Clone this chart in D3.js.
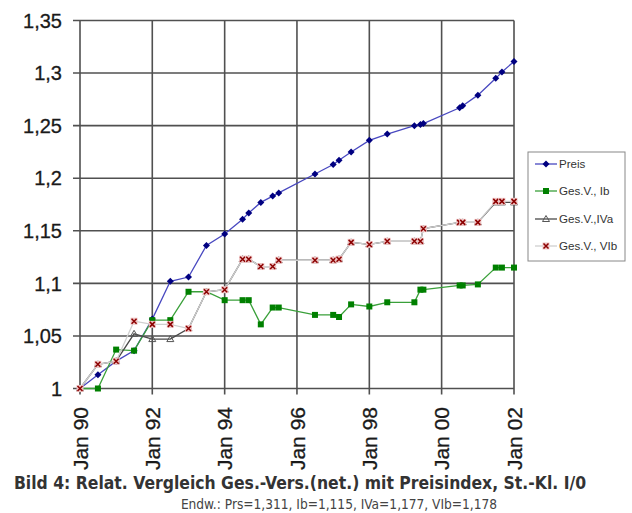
<!DOCTYPE html>
<html>
<head>
<meta charset="utf-8">
<script src="https://cdn.jsdelivr.net/npm/d3@7"></script>
<style>
  body { margin: 0; background: #fff; }
  text { font-family: "Liberation Sans", Arial, sans-serif; }
</style>
</head>
<body>
<div id="chart"></div>
<script>
var width = 632;
var height = 513;
var margin = {top: 20.5, left: 80, right: 118, bottom: 124.5};

// shared dates of all series
var dates = ["1990-01","1990-07","1991-01","1991-07","1992-01","1992-07","1993-01","1993-07",
  "1994-01","1994-07","1994-09","1995-01","1995-05","1995-07","1996-07","1997-01","1997-03",
  "1997-07","1998-01","1998-07","1999-04","1999-06","1999-07","2000-07","2000-08","2001-01",
  "2001-07","2001-09","2002-01"];

var preis = [1.000,1.013,1.026,1.036,1.066,1.102,1.106,1.136,1.147,1.161,1.167,1.177,1.183,1.186,
  1.204,1.213,1.217,1.225,1.236,1.242,1.250,1.251,1.252,1.267,1.269,1.279,1.295,1.301,1.311];
var ib = [1.000,1.000,1.037,1.036,1.065,1.065,1.092,1.092,1.084,1.084,1.084,1.061,1.077,1.077,
  1.070,1.070,1.068,1.080,1.078,1.082,1.082,1.094,1.094,1.098,1.098,1.099,1.115,1.115,1.115];
var iva = [1.000,1.023,1.026,1.052,1.047,1.047,1.057,1.092,1.094,1.123,1.123,1.116,1.116,1.122,
  1.122,1.122,1.123,1.139,1.137,1.140,1.140,1.140,1.152,1.158,1.158,1.158,1.177,1.177,1.177];
var vib = [1.000,1.023,1.026,1.064,1.061,1.061,1.057,1.092,1.094,1.123,1.123,1.116,1.116,1.122,
  1.122,1.122,1.123,1.139,1.137,1.140,1.140,1.140,1.152,1.158,1.158,1.158,1.178,1.178,1.178];

var seriesNames = ["Preis", "Ges.V., Ib", "Ges.V.,IVa", "Ges.V., VIb"];

var yTicks = [1, 1.05, 1.1, 1.15, 1.2, 1.25, 1.3, 1.35];
var xTickDates = ["1990-01","1992-01","1994-01","1996-01","1998-01","2000-01","2002-01"];
var xTickLabels = ["Jan 90","Jan 92","Jan 94","Jan 96","Jan 98","Jan 00","Jan 02"];

var caption = "Bild 4: Relat. Vergleich Ges.-Vers.(net.) mit Preisindex, St.-Kl. I/0";
var subCaption = "Endw.: Prs=1,311, Ib=1,115, IVa=1,177, VIb=1,178";

var parse = d3.timeParse("%Y-%m");

var svg = d3.select("#chart")
  .append("svg")
  .attr("width", width)
  .attr("height", height);

var xScale = d3.scaleTime()
  .domain([parse("1990-01"), parse("2002-01")])
  .range([margin.left, width - margin.right]);

var yScale = d3.scaleLinear()
  .domain([1, 1.35])
  .range([height - margin.bottom, margin.top]);

var fmt = function(v) { return d3.format(".2~f")(v).replace(".", ","); };

// grid
svg.append("g")
  .selectAll("line")
  .data(yTicks)
  .enter().append("line")
    .attr("x1", margin.left - 7)
    .attr("x2", width - margin.right)
    .attr("y1", function(d) { return yScale(d); })
    .attr("y2", function(d) { return yScale(d); })
    .attr("stroke", "#505050")
    .attr("stroke-width", 1.6);

svg.append("g")
  .selectAll("line")
  .data(xTickDates)
  .enter().append("line")
    .attr("x1", function(d) { return xScale(parse(d)); })
    .attr("x2", function(d) { return xScale(parse(d)); })
    .attr("y1", margin.top)
    .attr("y2", height - margin.bottom + 6)
    .attr("stroke", "#505050")
    .attr("stroke-width", 1.6);

// y labels
svg.append("g")
  .selectAll("text")
  .data(yTicks)
  .enter().append("text")
    .attr("x", 62)
    .attr("y", function(d) { return yScale(d); })
    .attr("dy", "0.36em")
    .attr("text-anchor", "end")
    .style("font-size", "20px")
    .attr("fill", "#1a1a1a")
    .attr("stroke", "#1a1a1a")
    .attr("stroke-width", 0.3)
    .text(fmt);

// x labels
svg.append("g")
  .selectAll("text")
  .data(xTickDates)
  .enter().append("text")
    .attr("transform", function(d) { return "translate(" + xScale(parse(d)) + "," + 407 + ") rotate(-90)"; })
    .attr("dy", "0.36em")
    .attr("text-anchor", "end")
    .style("font-size", "21px")
    .attr("fill", "#1a1a1a")
    .attr("stroke", "#1a1a1a")
    .attr("stroke-width", 0.3)
    .text(function(d, i) { return xTickLabels[i]; });

var line = d3.line()
  .x(function(d, i) { return xScale(parse(dates[i])); })
  .y(function(d) { return yScale(d); });

var styles = [
  {values: preis, line: "#4848c0", mark: "#000080", shape: "diamond"},
  {values: ib, line: "#3aa03a", mark: "#008000", shape: "square"},
  {values: iva, line: "#4a4a4a", mark: "#555", shape: "triangle"},
  {values: vib, line: "#cfcfcf", mark: "#8b0000", shape: "cross"}
];

function drawMarker(g, shape, s, cx, cy) {
  if (shape === "diamond") {
    g.append("path").attr("d", "M" + cx + "," + (cy - 3.5) + "L" + (cx + 3.5) + "," + cy + "L" + cx + "," + (cy + 3.5) + "L" + (cx - 3.5) + "," + cy + "Z")
      .attr("fill", s.mark);
  } else if (shape === "square") {
    g.append("rect").attr("x", cx - 3).attr("y", cy - 3).attr("width", 6).attr("height", 6).attr("fill", s.mark);
  } else if (shape === "triangle") {
    g.append("path").attr("d", "M" + cx + "," + (cy - 3.5) + "L" + (cx + 3.5) + "," + (cy + 2.5) + "L" + (cx - 3.5) + "," + (cy + 2.5) + "Z")
      .attr("fill", "none").attr("stroke", s.mark).attr("stroke-width", 1);
  } else {
    g.append("rect").attr("x", cx - 3.5).attr("y", cy - 3.5).attr("width", 7).attr("height", 7).attr("fill", "#efc4c4");
    g.append("path").attr("d", "M" + (cx - 2.5) + "," + (cy - 2.5) + "L" + (cx + 2.5) + "," + (cy + 2.5) + "M" + (cx + 2.5) + "," + (cy - 2.5) + "L" + (cx - 2.5) + "," + (cy + 2.5))
      .attr("stroke", s.mark).attr("stroke-width", 1.5);
  }
}

styles.forEach(function(s) {
  var g = svg.append("g");
  g.append("path")
    .datum(s.values)
    .attr("d", line)
    .attr("fill", "none")
    .attr("stroke", s.line)
    .attr("stroke-width", 1.3);
  s.values.forEach(function(v, i) {
    drawMarker(g, s.shape, s, xScale(parse(dates[i])), yScale(v));
  });
});

// legend
var legend = svg.append("g");
legend.append("rect")
  .attr("x", 528).attr("y", 152).attr("width", 97).attr("height", 109)
  .attr("fill", "#fff").attr("stroke", "#888").attr("stroke-width", 1);
var legendY = [164, 191, 219, 246];
styles.forEach(function(s, i) {
  legend.append("line")
    .attr("x1", 535).attr("x2", 557)
    .attr("y1", legendY[i]).attr("y2", legendY[i])
    .attr("stroke", s.line).attr("stroke-width", 1.3);
  drawMarker(legend, s.shape, s, 546, legendY[i]);
  legend.append("text")
    .attr("x", 559).attr("y", legendY[i]).attr("dy", "0.36em")
    .style("font-size", "11.6px").attr("fill", "#333")
    .text(seriesNames[i]);
});

svg.append("text")
  .attr("x", 300).attr("y", 489)
  .attr("text-anchor", "middle")
  .style("font-family", "'DejaVu Sans Condensed', 'DejaVu Sans'").style("font-weight", "bold").style("font-size", "17.4px")
  .attr("fill", "#333")
  .text(caption);

svg.append("text")
  .attr("x", 339).attr("y", 509)
  .attr("text-anchor", "middle")
  .style("font-family", "'DejaVu Sans Condensed', 'DejaVu Sans'").style("font-size", "13.6px")
  .attr("fill", "#444")
  .text(subCaption);
</script>
</body>
</html>
